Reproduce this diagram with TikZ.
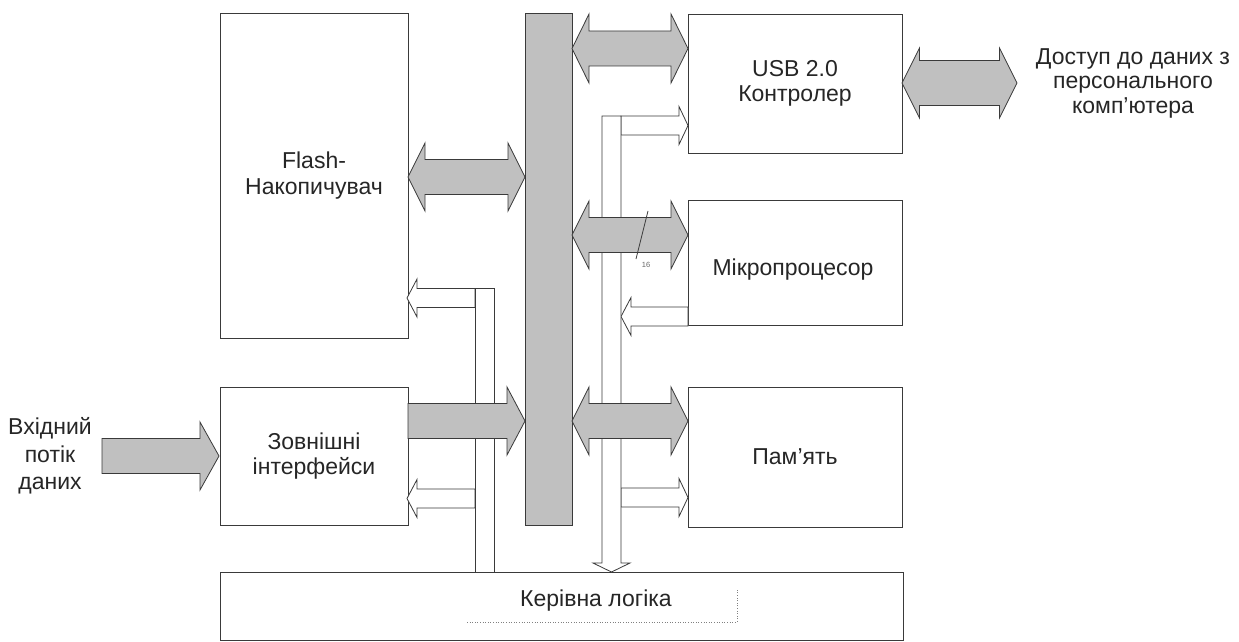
\documentclass[tikz,border=0pt]{standalone}
\usepackage{fontspec}
\setmainfont{Liberation Sans}
\definecolor{lc}{HTML}{3A3A3A}
\definecolor{gf}{HTML}{C0C0C0}
\tikzset{
  box/.style={draw=lc, line width=0.8pt, fill=white, inner sep=0pt},
  garr/.style={draw=lc, line width=0.8pt, fill=gf, line join=miter},
  warr/.style={draw=lc, line width=0.8pt, fill=white, line join=miter},
  txt/.style={font=\fontsize{23}{25.5}\selectfont, align=center, text=black!85, inner sep=0pt},
}
% horizontal double block arrow: xl xr yc shaft-half head-half head-length
\newcommand\hdbl[6]{%
  \path[garr] (#1,#3) -- ({#1+#6},{#3-#5}) -- ({#1+#6},{#3-#4}) -- ({#2-#6},{#3-#4})
    -- ({#2-#6},{#3-#5}) -- (#2,#3) -- ({#2-#6},{#3+#5}) -- ({#2-#6},{#3+#4})
    -- ({#1+#6},{#3+#4}) -- ({#1+#6},{#3+#5}) -- cycle;}
% horizontal single block arrow: style xtail xtip yc shaft-half head-half signed-head-length
\newcommand\hsgl[7]{%
  \path[#1] (#2,{#4-#5}) -- ({#3-#7},{#4-#5}) -- ({#3-#7},{#4-#6}) -- (#3,#4)
    -- ({#3-#7},{#4+#6}) -- ({#3-#7},{#4+#5}) -- (#2,{#4+#5}) -- cycle;}
\begin{document}
\begin{tikzpicture}[x=1pt, y=-1pt]
\useasboundingbox (0,0) rectangle (1239,642);
% blocks
\node[box, minimum width=188pt, minimum height=325pt, txt] (flash) at (314,175.5) {Flash-\\Накопичувач};
\node[box, minimum width=188pt, minimum height=138pt, txt] (zov) at (314,456) {Зовнішні\\інтерфейси};
\node[box, minimum width=214pt, minimum height=139pt, txt] (usb) at (795,83.5) {USB 2.0\\Контролер};
\node[box, minimum width=214pt, minimum height=125pt] (micro) at (795,262.5) {};
\node[txt] (microt) at (793,270) {Мікропроцесор};
\node[box, minimum width=214pt, minimum height=140pt, txt] (pam) at (795,457) {Пам’ять};
\node[box, minimum width=683pt, minimum height=68pt] (ker) at (561.5,606) {};
\node[txt] (kert) at (596,601) {Керівна логіка};
\draw[gray, dotted, line width=0.6pt] (467,622) coordinate (d1) -- (737,622) coordinate (d2) -- (737,589) coordinate (d3);
\node[box, fill=gf, minimum width=47pt, minimum height=512pt] (bus) at (548.5,269) {};
% white control paths
\hsgl{warr}{475}{407}{298}{9.5}{19}{-10}
\hsgl{warr}{475}{407}{498.5}{9.5}{19}{-10}
\path[warr] (475,288) rectangle (494,572);
\hsgl{warr}{621}{688}{125.5}{9.5}{19}{9}
\hsgl{warr}{688}{621}{316.5}{9.5}{19}{-10}
\hsgl{warr}{621}{688}{497.5}{9.5}{19}{9}
\path[warr] (602,116) -- (602,563) -- (593,563) -- (611.5,572) -- (630,563) -- (621,563) -- (621,116) -- cycle;
% grey data paths
\hdbl{572}{688}{48.5}{17.5}{34.5}{17}
\hdbl{902}{1017}{83}{22.5}{35}{17.5}
\hdbl{408}{525}{177}{17.5}{34}{17}
\hdbl{572}{688}{235}{17.5}{34}{17}
\hdbl{572}{688}{421}{17.5}{34}{17}
\hsgl{garr}{408}{525}{421}{17.5}{34}{18}
\hsgl{garr}{102}{219}{456}{17.5}{34}{19}
% bus width mark
\draw[lc, line width=0.8pt] (648,211) coordinate (s1) -- (636,259) coordinate (s2);
\node[font=\fontsize{7.5}{8}\selectfont, text=black!60, inner sep=0pt] (w16) at (646,265) {16};
% outside labels
\node[txt, font=\fontsize{23}{27.5}\selectfont] (inp) at (50,456) {Вхідний\\потік\\даних};
\node[txt, font=\fontsize{23}{24.5}\selectfont] (pc) at (1133,83) {Доступ до даних з\\персонального\\комп’ютера};
\end{tikzpicture}
\end{document}
